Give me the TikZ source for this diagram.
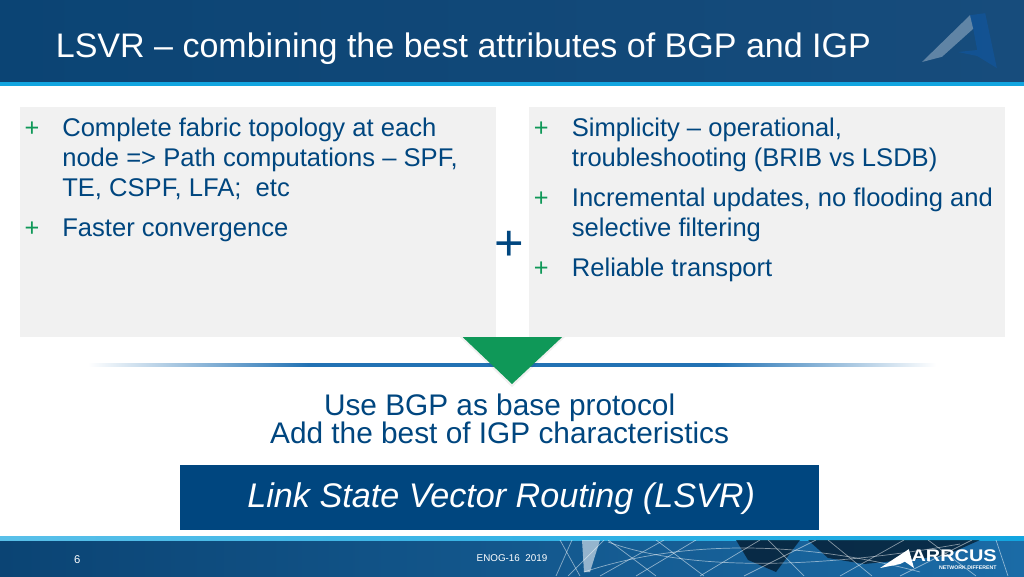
\documentclass[tikz,border=0pt]{standalone}
\usepackage{fontspec}
\setmainfont{Liberation Sans}
\definecolor{headblue}{HTML}{0B4474}
\definecolor{headlight}{HTML}{174C7C}
\definecolor{footlight}{HTML}{1B6BA6}
\definecolor{barcyan}{HTML}{12A5E0}
\definecolor{textblue}{HTML}{00467F}
\definecolor{panelgray}{HTML}{F1F1F1}
\definecolor{plusgreen}{HTML}{0F9858}
\definecolor{rulemid}{HTML}{2272B4}
\pgfdeclarehorizontalshading{rulefade}{100bp}{color(0bp)=(white); color(25bp)=(white); color(38bp)=(rulemid); color(62bp)=(rulemid); color(75bp)=(white); color(100bp)=(white)}
\tikzset{
  panel/.style={fill=panelgray, draw=none},
  bodytext/.style={anchor=north west, inner sep=0pt, align=left, text=textblue, font=\fontsize{18.2}{21.5}\selectfont},
  plusmark/.style={inner sep=0pt, text=plusgreen, font=\fontsize{18}{20}\selectfont},
  centertext/.style={inner sep=0pt, text=textblue, font=\fontsize{21.2}{21}\selectfont},
  netline/.style={white, opacity=0.5, line width=0.5pt},
}
\begin{document}
\begin{tikzpicture}
\useasboundingbox (0,0) rectangle (25.6,14.4);
\fill [white] (0,0) rectangle (25.6,14.4);

%%%%------------Header----------------%%
\fill [left color=headblue, right color=headlight] (0,12.35) rectangle (25.6,14.4);
\fill [barcyan] (0,12.25) rectangle (25.6,12.35);
\node [anchor=west, inner sep=0pt, white, font=\fontsize{24.2}{28}\selectfont] (title) at (1.39,13.19) {LSVR -- combining the best attributes of BGP and IGP};
% corner mark
\fill [white, opacity=0.32] (23.05,12.85) -- (24.25,14.02) -- (24.33,13.68) -- (23.55,12.98) -- cycle;
\fill [blue!55!cyan, opacity=0.17] (24.25,14.02) -- (24.63,14.07) -- (24.92,12.7) -- (24.43,13.0) -- (23.95,13.1) -- (24.43,13.15) -- (24.33,13.68) -- cycle;

%%%%------------Panels----------------%%
\fill [panel] (0.5,5.97) rectangle (12.4,11.72);
\fill [panel] (13.22,5.97) rectangle (25.12,11.72);

\node [plusmark] (lplusa) at (0.8,11.18) {+};
\node [bodytext] (ltexta) at (1.55,11.46) {Complete fabric topology at each\\node => Path computations -- SPF,\\TE, CSPF, LFA;\ \ etc};
\node [plusmark] (lplusb) at (0.8,8.68) {+};
\node [bodytext] (ltextb) at (1.55,8.93) {Faster convergence};

\node [plusmark] (rplusa) at (13.53,11.18) {+};
\node [bodytext] (rtexta) at (14.29,11.46) {Simplicity -- operational,\\troubleshooting (BRIB vs LSDB)};
\node [plusmark] (rplusb) at (13.53,9.43) {+};
\node [bodytext] (rtextb) at (14.29,9.71) {Incremental updates, no flooding and\\selective filtering};
\node [plusmark] (rplusc) at (13.53,7.68) {+};
\node [bodytext] (rtextc) at (14.29,7.96) {Reliable transport};

\node [inner sep=0pt, text=textblue, font=\fontsize{36}{36}\selectfont] (bigplus) at (12.73,8.25) {+};

%%%%------------Arrow----------------%%
\shade [shading=rulefade] (2.2,5.23) rectangle (23.4,5.31);
\fill [black, opacity=0.06] (11.5,5.97) -- (12.8,4.72) -- (14.12,5.97) -- cycle;
\fill [plusgreen] (11.57,5.97) -- (14.05,5.97) -- (12.8,4.8) -- cycle;

%%%%------------Result----------------%%
\node [centertext] (usebgp) at (12.49,4.2) {Use BGP as base protocol};
\node [centertext] (addigp) at (12.49,3.58) {Add the best of IGP characteristics};
\fill [textblue] (4.5,1.15) rectangle (20.47,2.78);
\node [inner sep=0pt, white, font=\fontsize{24.3}{28}\itshape\selectfont] (lsvr) at (12.53,1.93) {Link State Vector Routing (LSVR)};

%%%%------------Footer----------------%%
\fill [left color=headblue, right color=footlight] (0,0) rectangle (25.6,0.9);
\fill [left color=barcyan!70!white, right color=barcyan] (0,0.9) rectangle (25.6,0.99);
\begin{scope}
\clip (0,0) rectangle (25.6,0.9);
\fill [black!70!headblue, opacity=0.7] (18.4,0.9) -- (20,0.9) -- (19.4,0.1) -- (18.7,0.4) -- cycle;
\fill [black!70!headblue, opacity=0.7] (20.2,0.9) -- (24.5,0.9) -- (23.6,0.5) -- (21.6,0.3) -- (20.7,0.45) -- cycle;
\foreach \xa/\xb in {13.9/14.3, 14.2/15.1, 14.5/14.0, 15.0/16.6, 15.9/17.4, 16.4/15.2, 17.5/19.0, 17.6/16.4, 18.6/20.4, 20.1/19.2, 21.0/22.6, 21.8/20.7, 22.5/24.3, 24.4/23.2, 25.2/24.9}
  \draw [netline] (\xa,0) -- (\xb,0.9);
\draw [netline] (14.6,0.1) .. controls (17,0.9) and (20,0.9) .. (23,0.1);
\draw [netline] (15.2,0.85) .. controls (17,0.2) and (20,0.1) .. (24,0.8);
\fill [white, opacity=0.55] (14.55,0.9) -- (15.0,0.9) -- (14.75,0.1) -- (14.6,0.1) -- cycle;
\end{scope}
\node [inner sep=0pt, white, font=\fontsize{8}{10}\selectfont] (page) at (1.93,0.41) {6};
\node [inner sep=0pt, white, font=\fontsize{7}{8}\selectfont] (event) at (12.8,0.45) {ENOG-16\ \ 2019};
\fill [white] (22.0,0.2) -- (22.72,0.67) -- (22.85,0.2) -- (22.62,0.36) -- (22.5,0.3) -- cycle;
\node [inner sep=0pt, anchor=west, white, xscale=1.18, font=\fontsize{12}{12}\bfseries\selectfont] (logo) at (22.78,0.52) {ARRCUS};
\node [inner sep=0pt, anchor=east, white, font=\fontsize{3.7}{4}\bfseries\selectfont] (slogan) at (24.92,0.2) {NETWORK DIFFERENT};
\end{tikzpicture}
\end{document}
